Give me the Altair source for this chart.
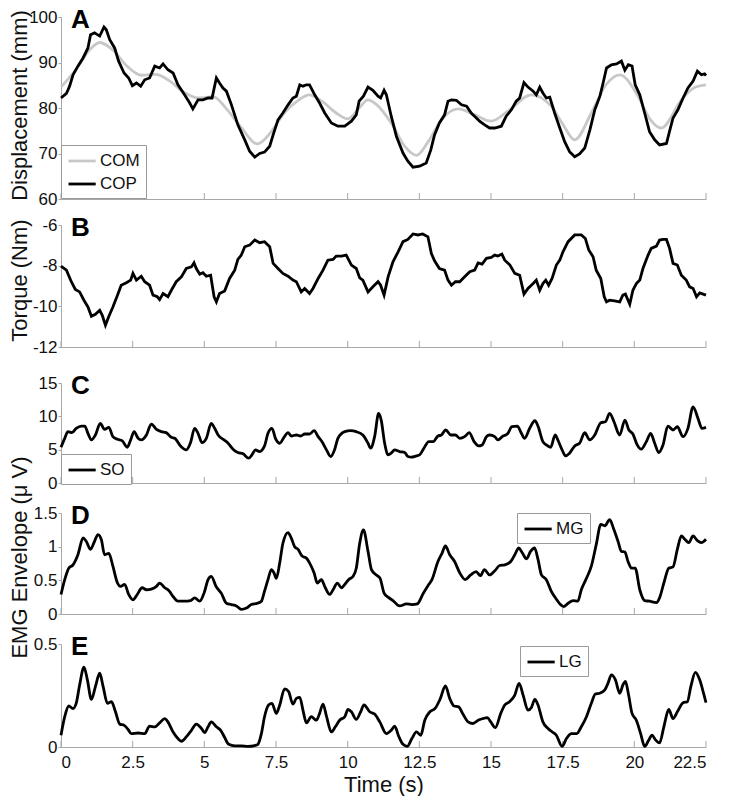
import altair as alt
import pandas as pd

FONT = "Liberation Sans"
AXIS_GRAY = "#a8a8a8"
INK = "#111111"

x_ticks = [0, 2.5, 5, 7.5, 10, 12.5, 15, 17.5, 20, 22.5]

# ---- Panel A: displacement (mm) ----
com = [(0, 84.6), (0.5, 88.3), (1.0, 92.8), (1.35, 94.4), (1.8, 92.8), (2.3, 89.2), (2.8, 87.2),
       (3.3, 87.4), (3.8, 85.9), (4.3, 83.4), (4.8, 82.2), (5.3, 82.5), (5.8, 79.6), (6.3, 75.6),
       (6.85, 72.1), (7.3, 74.5), (7.8, 79.0), (8.3, 81.8), (8.65, 82.9), (9.1, 81.5), (9.6, 78.9),
       (10.0, 77.6), (10.4, 80.0), (10.71, 81.8), (11.0, 80.8), (11.52, 76.7), (12.0, 71.5),
       (12.4, 69.6), (12.8, 72.5), (13.27, 77.4), (13.85, 79.8), (14.43, 78.5), (15.0, 77.1),
       (15.59, 79.3), (16.41, 82.9), (17.1, 80.4), (17.5, 76.5), (17.92, 73.0), (18.5, 78.9),
       (19.0, 85.0), (19.49, 87.3), (20.13, 82.6), (20.55, 77.5), (20.94, 75.6), (21.64, 81.8),
       (22.1, 84.5), (22.5, 85.1)]

cop = [(0, 82.2), (0.19, 83.2), (0.3, 84.8), (0.42, 87.3), (0.59, 89.2), (0.77, 91.0), (0.94, 93.2),
       (1.03, 96.1), (1.17, 96.5), (1.35, 95.8), (1.5, 97.8), (1.58, 97.2), (1.7, 95.0), (1.87, 93.2),
       (2.01, 90.3), (2.2, 87.7), (2.36, 86.6), (2.49, 84.9), (2.63, 85.5), (2.78, 84.8), (2.92, 86.2),
       (3.09, 86.6), (3.27, 89.2), (3.44, 88.8), (3.56, 89.7), (3.73, 88.4), (3.91, 87.7), (4.08, 85.1),
       (4.31, 82.9), (4.49, 81.1), (4.6, 79.8), (4.78, 81.8), (4.95, 81.8), (5.13, 82.2), (5.27, 82.2),
       (5.42, 86.6), (5.53, 85.5), (5.65, 84.4), (5.77, 83.7), (5.94, 80.8), (6.17, 76.3), (6.41, 73.0),
       (6.58, 70.5), (6.76, 69.2), (6.93, 70.0), (7.1, 70.3), (7.28, 71.6), (7.4, 74.1), (7.57, 77.4),
       (7.74, 78.9), (7.92, 80.7), (8.09, 82.2), (8.21, 82.6), (8.33, 85.1), (8.44, 84.8), (8.56, 85.1),
       (8.67, 85.1), (8.85, 82.9), (9.02, 81.1), (9.2, 78.9), (9.43, 76.7), (9.66, 76.0), (9.9, 76.0),
       (10.13, 77.1), (10.3, 78.5), (10.4, 81.5), (10.55, 82.6), (10.71, 84.6), (10.88, 83.9),
       (11.06, 82.6), (11.15, 82.2), (11.27, 83.9), (11.35, 82.9), (11.52, 78.2), (11.7, 73.8),
       (11.93, 70.1), (12.1, 68.3), (12.28, 67.0), (12.51, 67.2), (12.74, 67.9), (12.9, 70.8),
       (13.03, 74.1), (13.2, 76.7), (13.38, 78.5), (13.5, 81.5), (13.62, 81.8), (13.79, 81.7),
       (13.97, 80.7), (14.15, 80.4), (14.31, 78.9), (14.49, 77.8), (14.6, 77.1), (14.78, 76.3),
       (14.95, 75.6), (15.13, 75.6), (15.36, 76.0), (15.53, 78.2), (15.71, 79.6), (15.88, 81.5),
       (16.0, 82.2), (16.15, 85.6), (16.29, 84.6), (16.47, 83.7), (16.58, 82.9), (16.7, 84.6),
       (16.81, 83.3), (16.93, 82.2), (17.05, 82.4), (17.22, 78.9), (17.4, 75.6), (17.57, 72.6),
       (17.74, 70.4), (17.92, 69.3), (18.09, 69.9), (18.27, 71.2), (18.45, 75.2), (18.62, 79.6),
       (18.8, 82.6), (18.91, 85.5), (19.03, 88.8), (19.2, 89.5), (19.38, 89.7), (19.55, 90.3),
       (19.67, 88.3), (19.79, 89.5), (19.92, 89.2), (20.03, 85.1), (20.19, 82.9), (20.36, 78.9),
       (20.53, 74.8), (20.71, 73.0), (20.88, 71.9), (21.12, 72.2), (21.23, 74.9), (21.35, 77.8),
       (21.52, 79.6), (21.7, 82.2), (21.87, 84.4), (22.05, 85.9), (22.2, 88.1), (22.34, 87.3),
       (22.45, 87.5), (22.5, 87.1)]

# ---- Panel B: torque (Nm) ----
torque = [(0, -8.02), (0.19, -8.22), (0.36, -8.79), (0.5, -9.17), (0.65, -9.29), (0.8, -9.7), (0.94, -10.03),
          (1.06, -10.49), (1.2, -10.39), (1.35, -10.19), (1.44, -10.44), (1.55, -10.93), (1.66, -10.52),
          (1.81, -10.03), (1.97, -9.45), (2.1, -8.96), (2.28, -8.84), (2.43, -8.71), (2.51, -8.38),
          (2.63, -8.71), (2.8, -8.52), (2.92, -8.79), (3.09, -8.96), (3.21, -9.45), (3.36, -9.53),
          (3.44, -9.67), (3.56, -9.37), (3.73, -9.53), (3.85, -9.21), (4.02, -8.79), (4.2, -8.55),
          (4.37, -8.14), (4.55, -8.06), (4.64, -7.86), (4.72, -8.14), (4.84, -8.42), (4.95, -8.35),
          (5.07, -8.52), (5.22, -8.47), (5.34, -9.53), (5.42, -9.78), (5.53, -9.37), (5.71, -9.24),
          (5.88, -8.63), (6.06, -8.22), (6.17, -7.69), (6.29, -7.48), (6.41, -7.07), (6.58, -6.99),
          (6.76, -6.74), (6.93, -6.87), (7.1, -6.82), (7.28, -7.07), (7.4, -7.89), (7.57, -8.14),
          (7.74, -8.38), (7.92, -8.52), (8.09, -8.71), (8.21, -8.79), (8.38, -9.29), (8.5, -9.12),
          (8.67, -9.37), (8.79, -9.12), (8.97, -8.63), (9.14, -8.22), (9.31, -7.73), (9.49, -7.69),
          (9.6, -7.53), (9.78, -7.53), (9.95, -7.48), (10.13, -7.97), (10.3, -8.14), (10.42, -8.6),
          (10.53, -8.71), (10.71, -9.29), (10.88, -9.04), (11.06, -8.79), (11.15, -8.96), (11.27, -9.45),
          (11.41, -8.55), (11.58, -7.81), (11.76, -7.32), (11.93, -6.82), (12.1, -6.71), (12.28, -6.44),
          (12.45, -6.49), (12.62, -6.44), (12.8, -6.58), (12.92, -7.4), (13.03, -7.76), (13.2, -8.14),
          (13.38, -8.22), (13.5, -8.71), (13.62, -8.96), (13.76, -8.79), (13.91, -8.79), (14.08, -8.55),
          (14.26, -8.3), (14.43, -8.22), (14.55, -7.86), (14.69, -7.92), (14.84, -7.64), (15.01, -7.59),
          (15.13, -7.48), (15.24, -7.53), (15.38, -7.43), (15.48, -7.73), (15.66, -7.97), (15.83, -8.38),
          (16.0, -8.47), (16.15, -9.4), (16.29, -9.12), (16.47, -8.88), (16.58, -8.71), (16.7, -9.21),
          (16.81, -8.88), (16.91, -8.71), (17.01, -8.96), (17.13, -8.63), (17.28, -7.97), (17.4, -7.73),
          (17.51, -7.32), (17.69, -6.82), (17.92, -6.49), (18.15, -6.49), (18.29, -6.66), (18.41, -7.23),
          (18.56, -7.56), (18.67, -8.22), (18.83, -8.63), (18.95, -9.53), (19.03, -9.78), (19.14, -9.7),
          (19.31, -9.73), (19.49, -9.78), (19.6, -9.45), (19.69, -9.4), (19.78, -9.7), (19.84, -9.9),
          (19.95, -9.21), (20.07, -8.88), (20.19, -8.71), (20.3, -8.14), (20.48, -7.48), (20.59, -7.15),
          (20.77, -7.04), (20.88, -6.74), (21.0, -6.71), (21.12, -6.71), (21.23, -7.15), (21.35, -7.89),
          (21.5, -7.97), (21.64, -8.47), (21.81, -8.71), (21.93, -9.04), (22.05, -9.12), (22.17, -9.53),
          (22.28, -9.34), (22.4, -9.4), (22.5, -9.45)]

# ---- Panel C: SO EMG ----
so = [(0, 5.36), (0.13, 6.7), (0.24, 7.7), (0.38, 7.55), (0.53, 8.2), (0.71, 8.54), (0.83, 8.54), (0.94, 7.45),
      (1.06, 6.46), (1.2, 7.2), (1.37, 8.94), (1.52, 8.05), (1.67, 8.34), (1.81, 6.95), (1.97, 6.56),
      (2.13, 6.36), (2.31, 5.36), (2.43, 6.46), (2.55, 7.7), (2.69, 6.7), (2.8, 6.46), (2.98, 7.2),
      (3.15, 8.84), (3.33, 8.05), (3.5, 7.7), (3.67, 7.55), (3.85, 6.85), (3.97, 6.7), (4.17, 5.56),
      (4.37, 4.97), (4.52, 6.06), (4.66, 8.2), (4.78, 7.45), (4.92, 6.06), (5.07, 6.7), (5.24, 8.94),
      (5.36, 8.2), (5.48, 7.2), (5.69, 6.46), (5.83, 5.96), (6.0, 5.07), (6.17, 4.57), (6.35, 4.37),
      (6.55, 3.72), (6.66, 4.22), (6.78, 4.97), (6.93, 4.72), (7.1, 5.56), (7.22, 7.45), (7.36, 8.2),
      (7.48, 6.7), (7.63, 5.96), (7.78, 6.85), (7.92, 7.55), (8.03, 7.05), (8.21, 7.2), (8.36, 7.05),
      (8.5, 7.35), (8.67, 7.35), (8.83, 7.85), (8.97, 6.95), (9.1, 6.21), (9.26, 4.97), (9.41, 3.97),
      (9.55, 5.07), (9.66, 6.7), (9.9, 7.7), (10.1, 7.85), (10.3, 7.7), (10.53, 7.2), (10.71, 5.96),
      (10.8, 5.22), (10.94, 6.95), (11.08, 10.43), (11.17, 9.44), (11.29, 5.96), (11.41, 4.22),
      (11.52, 4.47), (11.64, 4.97), (11.81, 4.72), (11.99, 4.57), (12.1, 3.97), (12.22, 3.87),
      (12.4, 4.07), (12.51, 4.22), (12.66, 5.22), (12.83, 6.21), (12.98, 6.21), (13.15, 7.05),
      (13.27, 7.2), (13.42, 7.95), (13.6, 7.2), (13.76, 7.2), (13.91, 6.7), (14.08, 6.95), (14.24, 7.55),
      (14.41, 6.21), (14.57, 5.56), (14.69, 5.71), (14.84, 6.95), (14.95, 7.2), (15.13, 6.95),
      (15.24, 6.46), (15.42, 7.05), (15.57, 7.35), (15.73, 8.44), (15.92, 8.54), (16.06, 7.45),
      (16.17, 6.7), (16.35, 8.2), (16.53, 9.34), (16.64, 8.54), (16.81, 6.21), (16.93, 5.71),
      (17.08, 5.36), (17.24, 7.2), (17.33, 6.46), (17.48, 4.97), (17.6, 4.07), (17.74, 4.47),
      (17.92, 5.56), (18.09, 5.96), (18.27, 7.55), (18.44, 6.46), (18.62, 7.2), (18.83, 9.04),
      (18.99, 9.19), (19.14, 10.43), (19.29, 9.19), (19.49, 7.2), (19.67, 9.44), (19.81, 7.95),
      (19.95, 7.35), (20.1, 5.71), (20.24, 5.07), (20.42, 6.21), (20.57, 7.45), (20.71, 5.96),
      (20.85, 4.57), (21.0, 5.71), (21.17, 8.54), (21.35, 7.95), (21.5, 8.44), (21.7, 6.95),
      (21.87, 8.2), (22.05, 11.42), (22.22, 9.69), (22.36, 8.2), (22.5, 8.34)]

# ---- Panel D: MG EMG ----
mg = [(0, 0.29), (0.13, 0.51), (0.27, 0.68), (0.42, 0.73), (0.59, 0.88), (0.77, 1.13), (0.88, 1.08),
      (1.03, 0.96), (1.17, 1.08), (1.29, 1.18), (1.41, 1.1), (1.52, 0.88), (1.67, 0.9), (1.81, 0.71),
      (1.97, 0.46), (2.08, 0.41), (2.22, 0.44), (2.36, 0.29), (2.51, 0.21), (2.66, 0.29), (2.83, 0.39),
      (2.98, 0.36), (3.15, 0.37), (3.33, 0.41), (3.44, 0.46), (3.62, 0.39), (3.76, 0.35), (3.91, 0.26),
      (4.08, 0.19), (4.31, 0.19), (4.52, 0.2), (4.66, 0.24), (4.84, 0.19), (4.99, 0.31), (5.13, 0.51),
      (5.24, 0.56), (5.42, 0.4), (5.59, 0.31), (5.77, 0.16), (5.94, 0.14), (6.12, 0.12), (6.29, 0.07),
      (6.47, 0.09), (6.64, 0.14), (6.85, 0.16), (6.99, 0.19), (7.1, 0.34), (7.22, 0.51), (7.34, 0.66),
      (7.43, 0.61), (7.51, 0.53), (7.63, 0.76), (7.74, 1.05), (7.92, 1.21), (8.03, 1.13), (8.15, 1.0),
      (8.27, 0.96), (8.41, 0.86), (8.56, 0.83), (8.67, 0.76), (8.83, 0.61), (8.94, 0.46), (9.08, 0.51),
      (9.22, 0.39), (9.37, 0.29), (9.49, 0.36), (9.64, 0.46), (9.78, 0.39), (9.9, 0.44), (10.03, 0.51),
      (10.19, 0.56), (10.3, 0.68), (10.42, 1.05), (10.55, 1.25), (10.71, 0.93), (10.83, 0.66),
      (11.0, 0.58), (11.13, 0.53), (11.27, 0.31), (11.41, 0.25), (11.58, 0.2), (11.81, 0.12),
      (12.05, 0.15), (12.24, 0.14), (12.43, 0.15), (12.63, 0.3), (12.8, 0.42), (12.94, 0.51),
      (13.15, 0.78), (13.29, 0.9), (13.41, 1.01), (13.56, 0.88), (13.73, 0.78), (13.91, 0.61),
      (14.1, 0.51), (14.29, 0.58), (14.48, 0.63), (14.63, 0.57), (14.77, 0.66), (14.95, 0.58),
      (15.15, 0.65), (15.3, 0.72), (15.48, 0.73), (15.69, 0.78), (15.83, 0.88), (15.97, 0.98),
      (16.09, 0.91), (16.24, 0.82), (16.38, 0.93), (16.52, 0.98), (16.64, 0.81), (16.76, 0.58),
      (16.93, 0.51), (17.1, 0.34), (17.28, 0.22), (17.4, 0.15), (17.53, 0.11), (17.69, 0.16),
      (17.86, 0.2), (18.03, 0.19), (18.15, 0.36), (18.33, 0.53), (18.5, 0.71), (18.67, 1.03),
      (18.83, 1.33), (18.97, 1.31), (19.14, 1.4), (19.29, 1.25), (19.43, 1.08), (19.55, 0.93),
      (19.67, 0.92), (19.78, 0.78), (19.9, 0.68), (20.03, 0.68), (20.19, 0.36), (20.36, 0.2),
      (20.53, 0.19), (20.77, 0.17), (20.88, 0.24), (21.03, 0.46), (21.2, 0.68), (21.35, 0.7),
      (21.5, 0.96), (21.64, 1.16), (21.76, 1.11), (21.9, 1.06), (22.05, 1.16), (22.2, 1.09),
      (22.34, 1.06), (22.5, 1.11)]

# ---- Panel E: LG EMG ----
lg = [(0, 0.057), (0.13, 0.147), (0.27, 0.199), (0.42, 0.187), (0.53, 0.212), (0.65, 0.301), (0.8, 0.388),
      (0.92, 0.326), (1.06, 0.231), (1.2, 0.293), (1.35, 0.358), (1.47, 0.293), (1.62, 0.212), (1.76, 0.22),
      (1.9, 0.171), (2.05, 0.111), (2.2, 0.106), (2.34, 0.085), (2.45, 0.065), (2.69, 0.068), (2.92, 0.065),
      (3.09, 0.101), (3.27, 0.098), (3.44, 0.117), (3.62, 0.138), (3.73, 0.122), (3.91, 0.073), (4.08, 0.041),
      (4.2, 0.028), (4.37, 0.049), (4.55, 0.081), (4.72, 0.111), (4.9, 0.09), (5.01, 0.07), (5.13, 0.098),
      (5.24, 0.122), (5.42, 0.098), (5.57, 0.081), (5.71, 0.046), (5.85, 0.013), (6.06, 0.005), (6.29, 0.005),
      (6.52, 0.003), (6.76, 0.007), (6.87, 0.013), (6.99, 0.065), (7.1, 0.147), (7.24, 0.204), (7.36, 0.212),
      (7.51, 0.163), (7.63, 0.204), (7.8, 0.282), (7.94, 0.269), (8.09, 0.208), (8.21, 0.236), (8.33, 0.241),
      (8.44, 0.179), (8.56, 0.117), (8.73, 0.147), (8.91, 0.13), (9.02, 0.163), (9.14, 0.208), (9.26, 0.15),
      (9.43, 0.073), (9.57, 0.098), (9.72, 0.13), (9.9, 0.147), (10.01, 0.182), (10.13, 0.171), (10.3, 0.134),
      (10.45, 0.17), (10.57, 0.204), (10.77, 0.171), (10.94, 0.16), (11.12, 0.122), (11.35, 0.065),
      (11.52, 0.081), (11.64, 0.101), (11.78, 0.052), (11.93, 0.013), (12.08, 0.003), (12.24, 0.041),
      (12.4, 0.073), (12.55, 0.057), (12.69, 0.13), (12.87, 0.171), (13.05, 0.187), (13.22, 0.231),
      (13.41, 0.296), (13.56, 0.236), (13.71, 0.199), (13.87, 0.195), (14.02, 0.16), (14.2, 0.122),
      (14.37, 0.114), (14.55, 0.13), (14.72, 0.138), (14.87, 0.143), (14.99, 0.122), (15.15, 0.094),
      (15.34, 0.163), (15.48, 0.204), (15.65, 0.22), (15.83, 0.252), (15.98, 0.309), (16.12, 0.252),
      (16.29, 0.179), (16.41, 0.192), (16.53, 0.231), (16.64, 0.204), (16.81, 0.122), (16.99, 0.09),
      (17.14, 0.073), (17.28, 0.057), (17.48, 0.003), (17.63, 0.041), (17.81, 0.065), (17.99, 0.065),
      (18.15, 0.098), (18.33, 0.147), (18.5, 0.212), (18.64, 0.257), (18.79, 0.261), (18.97, 0.277),
      (19.08, 0.309), (19.2, 0.35), (19.34, 0.326), (19.49, 0.261), (19.6, 0.301), (19.69, 0.318),
      (19.8, 0.252), (19.92, 0.163), (20.07, 0.13), (20.22, 0.065), (20.36, 0.003), (20.5, 0.033),
      (20.62, 0.057), (20.73, 0.036), (20.88, 0.02), (21.03, 0.098), (21.2, 0.182), (21.35, 0.138),
      (21.5, 0.171), (21.7, 0.215), (21.85, 0.22), (21.97, 0.293), (22.13, 0.362), (22.28, 0.326),
      (22.4, 0.269), (22.5, 0.215)]


def frame(name, pts):
    return pd.DataFrame({"t": [p[0] for p in pts], "v": [p[1] for p in pts], "s": name})


XSCALE = alt.Scale(domain=[0, 22.5], nice=False, zero=False)
TICK_LEN = 6


def panel(series, colors, ydomain, yticks, ytitle, title_y, letter, ro, ph, legend_pos=None,
          bottom=False):
    """series: list of (name, points, interpolation)"""
    H = ro + ph
    xaxis = alt.Axis(values=x_ticks, ticks=False, tickSize=0, labels=bottom, grid=False,
                     labelExpr="'' + datum.value", labelPadding=7, titlePadding=4,
                     labelFontSize=17)
    xtitle = "Time (s)" if bottom else ""
    x = alt.X("t:Q", scale=XSCALE, axis=xaxis, title=xtitle)
    yaxis = alt.Axis(values=yticks, grid=False, tickSize=3, labelPadding=1,
                     labelExpr="'' + datum.value", titleX=-30, titleY=title_y,
                     titleAngle=270, titleAlign="center", titleBaseline="bottom")
    y = alt.Y("v:Q", scale=alt.Scale(domain=ydomain, range=[H, ro], nice=False, zero=False),
              axis=yaxis, title=ytitle)
    names = [s[0] for s in series]
    layers = [alt.Chart(pd.DataFrame({"t": x_ticks})).mark_rule(color=AXIS_GRAY, strokeWidth=1).encode(
        x=x, y=alt.value(H), y2=alt.value(H - TICK_LEN))]
    for name, pts, interp in series:
        mark = alt.Chart(frame(name, pts))
        if legend_pos is not None:
            layers.append(mark.mark_line(strokeWidth=2.8, interpolate=interp).encode(
                x=x, y=y,
                color=alt.Color("s:N", scale=alt.Scale(domain=names, range=colors),
                                legend=alt.Legend(orient="none", legendX=legend_pos[0],
                                                  legendY=legend_pos[1], title=None))))
        else:
            layers.append(mark.mark_line(strokeWidth=2.8, interpolate=interp, color=colors[0]).encode(
                x=x, y=y))
    layers.append(alt.Chart(pd.DataFrame({"label": [letter]})).mark_text(
        align="left", baseline="alphabetic", fontSize=26, fontWeight="bold", font=FONT, color="black"
    ).encode(x=alt.value(10), y=alt.value(ro + 11), text="label:N"))
    return alt.layer(*layers).properties(width=645, height=H)


pA = panel([("COM", com, "monotone"), ("COP", cop, "linear")], ["#c8c8c8", "#000000"], [60, 100],
           [60, 70, 80, 90, 100], "Displacement (mm)", 88, "A", 0, 182, legend_pos=(0, 128))
pB = panel([("Torque", torque, "linear")], ["#000000"], [-12, -6], [-12, -10, -8, -6],
           "Torque (Nm)", 55, "B", 0, 122)
pC = panel([("SO", so, "monotone")], ["#000000"], [0, 15], [0, 5, 10, 15], "", 50, "C", 10, 100,
           legend_pos=(0, 81))
pD = panel([("MG", mg, "monotone")], ["#000000"], [0, 1.5], [0, 0.5, 1, 1.5], "EMG Envelope (\u03bc V)",
           48, "D", 4, 101, legend_pos=(456, 4))
pE = panel([("LG", lg, "monotone")], ["#000000"], [0, 0.5], [0, 0.5], "", 50, "E", 4, 103,
           legend_pos=(459, 6), bottom=True)

chart = alt.vconcat(pA, pB, pC, pD, pE, spacing=26, bounds="flush").resolve_scale(
    color="independent"
).resolve_legend(color="independent").properties(
    padding={"left": -1, "top": -2, "right": 2, "bottom": 0}
).configure_view(stroke="transparent").configure_axis(
    labelFont=FONT, titleFont=FONT, labelFontSize=17, titleFontSize=22, titleFontWeight="normal",
    labelColor=INK, titleColor=INK, domainColor=AXIS_GRAY, tickColor=AXIS_GRAY, domainWidth=1,
).configure_legend(
    symbolType="M-1,0H2.2", symbolSize=289, symbolStrokeWidth=2.8, labelFont=FONT, labelFontSize=17,
    labelColor=INK, strokeColor="#9a9a9a", fillColor="white", padding=6, rowPadding=5, labelOffset=13,
    cornerRadius=0,
)

chart.save("out.html", embed_options={"renderer": "svg", "actions": False})
